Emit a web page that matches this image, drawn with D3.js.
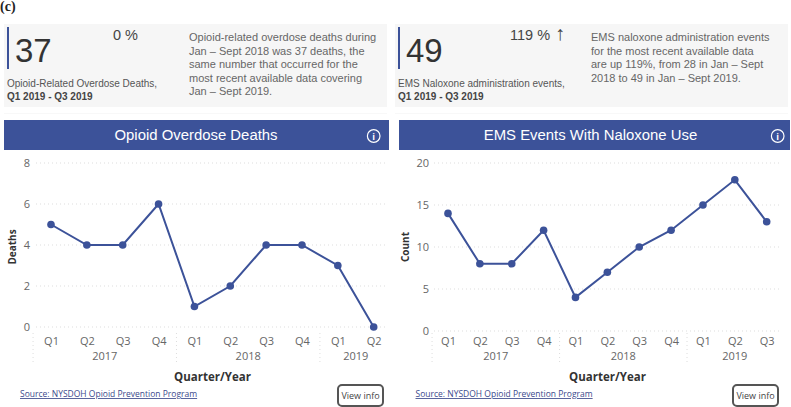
<!DOCTYPE html>
<html>
<head>
<meta charset="utf-8">
<script src="https://cdn.jsdelivr.net/npm/d3@7"></script>
<style>
  html, body { margin: 0; padding: 0; background: #fff; }
  svg { display: block; }
  text { font-family: "Open Sans", sans-serif; }
  .sans { font-family: "Liberation Sans", sans-serif; }
</style>
</head>
<body>
<svg id="chart" width="791" height="407"></svg>
<script>
var quartersLeft = ['Q1','Q2','Q3','Q4','Q1','Q2','Q3','Q4','Q1','Q2'];
var quartersRight = ['Q1','Q2','Q3','Q4','Q1','Q2','Q3','Q4','Q1','Q2','Q3'];
var years = ['2017','2018','2019'];
var deaths = [5,4,4,6,1,2,4,4,3,0];
var events = [14,8,8,12,4,7,10,12,15,18,13];
var deathTicks = [0,2,4,6,8];
var eventTicks = [0,5,10,15,20];

var blue = '#3c5299';
var svg = d3.select('#chart');

svg.append('text').attr('x', 0).attr('y', 11)
  .style('font-family', '"Liberation Serif", serif')
  .style('font-weight', 'bold').style('font-size', '14px').attr('fill', '#222').text('(c)');

function card(o) {
  var g = svg.append('g');
  g.append('rect').attr('x', o.x).attr('y', 24).attr('width', o.w).attr('height', 83).attr('fill', '#f6f6f6');
  g.append('rect').attr('x', o.x).attr('y', 113).attr('width', o.w).attr('height', 1).attr('fill', '#f8f8f8');
  g.append('rect').attr('x', o.bar).attr('y', 27).attr('width', 2).attr('height', 42).attr('fill', blue);
  g.append('text').attr('class', 'sans').attr('x', o.numX).attr('y', 62).attr('font-size', 33).attr('fill', '#333').text(o.num);
  var pct = g.append('text').attr('class', 'sans').attr('x', o.pctX).attr('y', 40).attr('font-size', 14.5).attr('fill', '#444').text(o.pct);
  if (o.arrow) pct.append('tspan').attr('dx', 5).attr('font-size', 20).text(o.arrow);
  g.append('text').attr('class', 'sans').attr('x', o.labelX).attr('y', 87).attr('font-size', 10).attr('fill', '#555').text(o.label);
  g.append('text').attr('class', 'sans').attr('x', o.labelX).attr('y', 100).attr('font-size', 10).attr('font-weight', 'bold').attr('fill', '#444').text('Q1 2019 - Q3 2019');
  o.lines.forEach(function (line, i) {
    g.append('text').attr('class', 'sans').attr('x', o.textX).attr('y', 41 + i * 13.6).attr('font-size', 11).attr('fill', '#666').text(line);
  });
}

card({
  x: 4, w: 383, bar: 7, numX: 15, num: '37', pctX: 113, pct: '0 %', labelX: 7,
  label: 'Opioid-Related Overdose Deaths,', textX: 189,
  lines: ['Opioid-related overdose deaths during', 'Jan \u2013 Sept 2018 was 37 deaths, the', 'same number that occurred for the', 'most recent available data covering', 'Jan \u2013 Sept 2019.']
});
card({
  x: 395, w: 393, bar: 398, numX: 406, num: '49', pctX: 510, pct: '119 %', arrow: '\u2191', labelX: 398,
  label: 'EMS Naloxone administration events,', textX: 591,
  lines: ['EMS naloxone administration events', 'for the most recent available data', 'are up 119%, from 28 in Jan \u2013 Sept', '2018 to 49 in Jan \u2013 Sept 2019.']
});

function panel(o) {
  var g = svg.append('g');
  g.append('rect').attr('x', o.headX).attr('y', 120).attr('width', o.headW).attr('height', 30).attr('fill', blue);
  g.append('text').attr('class', 'sans').attr('x', o.titleX).attr('y', 140).attr('text-anchor', 'middle')
    .attr('font-size', 14.9).attr('fill', '#fff').text(o.title);
  g.append('circle').attr('cx', o.infoX).attr('cy', 136).attr('r', 6.3).attr('fill', 'none').attr('stroke', '#fff').attr('stroke-width', 1.2);
  g.append('text').attr('x', o.infoX).attr('y', 139.5).attr('text-anchor', 'middle').attr('font-size', 9).attr('font-weight', 'bold').attr('fill', '#fff').text('i');

  var x = d3.scalePoint().domain(d3.range(o.quarters.length)).range([o.x0, o.x1]);
  var y = d3.scaleLinear().domain(o.domain).range([o.y0, o.y1]);

  // horizontal grid
  g.selectAll('.grid').data(o.ticks).enter().append('line')
    .attr('x1', o.gridX0).attr('x2', o.gridX1)
    .attr('y1', function (d) { return y(d); }).attr('y2', function (d) { return y(d); })
    .attr('stroke', '#d4d4d4').attr('stroke-width', 0.8).attr('stroke-dasharray', '1 3');

  var yAxis = d3.axisLeft(y).tickValues(o.ticks).tickSize(0).tickPadding(0);
  var ya = g.append('g').attr('transform', 'translate(' + o.yTickX + ',0)').call(yAxis);
  ya.select('.domain').remove();
  ya.selectAll('text').attr('font-size', 11).attr('fill', '#666').style('font-family', '"Open Sans", sans-serif');

  g.append('text').attr('transform', 'translate(' + o.yLabelX + ',247) rotate(-90)')
    .attr('text-anchor', 'middle').attr('font-size', 10).attr('font-weight', 'bold').attr('fill', '#333').text(o.yLabel);

  // quarter and year labels
  var xAxis = d3.axisBottom(x).tickFormat(function (d) { return o.quarters[d]; }).tickSize(0).tickPadding(0);
  var xa = g.append('g').attr('transform', 'translate(0,337)').call(xAxis);
  xa.select('.domain').remove();
  xa.selectAll('text').attr('font-size', 11).attr('fill', '#666').style('font-family', '"Open Sans", sans-serif');

  var step = x.step();
  var counts = [4, 4, o.quarters.length - 8];
  var start = 0;
  years.forEach(function (yr, i) {
    var first = start, last = start + counts[i] - 1;
    g.append('text').attr('x', (x(first) + x(last)) / 2).attr('y', 360)
      .attr('text-anchor', 'middle').attr('font-size', 11).attr('fill', '#666').text(yr);
    var sx = x(first) - step / 2;
    g.append('line').attr('x1', sx).attr('x2', sx).attr('y1', 333).attr('y2', 365)
      .attr('stroke', '#d4d4d4').attr('stroke-width', 0.8).attr('stroke-dasharray', '1 3');
    start += counts[i];
  });

  var line = d3.line().x(function (d, i) { return x(i); }).y(function (d) { return y(d); });
  g.append('path').datum(o.values).attr('d', line).attr('fill', 'none').attr('stroke', blue).attr('stroke-width', 2);
  g.selectAll('.pt').data(o.values).enter().append('circle')
    .attr('cx', function (d, i) { return x(i); }).attr('cy', function (d) { return y(d); })
    .attr('r', 3.8).attr('fill', blue);

  g.append('text').attr('x', o.axisTitleX).attr('y', 381).attr('text-anchor', 'middle')
    .attr('font-size', 11.5).attr('font-weight', 'bold').attr('fill', '#333').text('Quarter/Year');

  g.append('text').attr('x', o.srcX).attr('y', 397).attr('font-size', 8.5).attr('fill', '#3c4a8c')
    .attr('text-decoration', 'underline').text('Source: NYSDOH Opioid Prevention Program');

  g.append('rect').attr('x', o.btnX).attr('y', 385).attr('width', 45).attr('height', 21).attr('rx', 4)
    .attr('fill', '#fff').attr('stroke', '#555').attr('stroke-width', 2);
  g.append('text').attr('x', o.btnX + 22.5).attr('y', 399).attr('text-anchor', 'middle')
    .attr('font-size', 9).attr('fill', '#444').text('View info');
}

panel({
  headX: 4, headW: 385, title: 'Opioid Overdose Deaths', titleX: 196, infoX: 373.7,
  quarters: quartersLeft, values: deaths, domain: [0, 8], ticks: deathTicks, yLabel: 'Deaths',
  x0: 51, x1: 373.7, y0: 327, y1: 163, gridX0: 36, gridX1: 388, yTickX: 30, yLabelX: 15.5,
  axisTitleX: 212.5, srcX: 20, btnX: 338
});
panel({
  headX: 399, headW: 391, title: 'EMS Events With Naloxone Use', titleX: 590.5, infoX: 777.7,
  quarters: quartersRight, values: events, domain: [0, 20], ticks: eventTicks, yLabel: 'Count',
  x0: 448, x1: 766.7, y0: 331, y1: 163, gridX0: 434, gridX1: 779, yTickX: 429, yLabelX: 408.5,
  axisTitleX: 607.5, srcX: 415.5, btnX: 733
});
</script>
</body>
</html>
